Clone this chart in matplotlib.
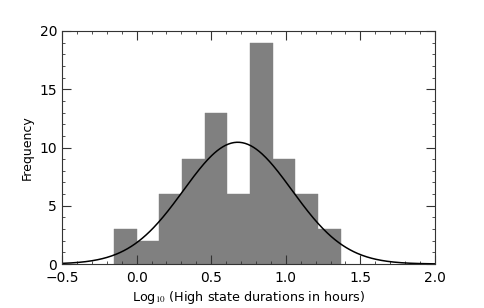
import matplotlib
matplotlib.use('Agg')
import matplotlib.pyplot as plt
import numpy as np
from matplotlib.ticker import MultipleLocator

# histogram
bin_edges = [-0.151, 0.001, 0.153, 0.305, 0.457, 0.609, 0.761, 0.913, 1.065, 1.217, 1.369]
counts = [3, 2, 6, 9, 13, 6, 19, 9, 6, 3]

# fitted gaussian (peak height, centre, width)
fit_amp = 10.45
fit_mu = 0.678
fit_sigma = 0.363

plt.rcParams['mathtext.fontset'] = 'stix'

fig = plt.figure(figsize=(4.85, 3.08), dpi=100)
ax = fig.add_axes([62/485, 1-264/308, (435-62)/485, (264-31)/308])

left = np.array(bin_edges[:-1])
widths = np.diff(bin_edges)
ax.bar(left, counts, width=widths, align='edge', color='#808080',
       edgecolor='#808080', linewidth=0.3)

xs = np.linspace(-0.5, 2.0, 400)
ax.plot(xs, fit_amp*np.exp(-0.5*((xs-fit_mu)/fit_sigma)**2), color='black', lw=1.1)

ax.set_xlim(-0.5, 2.0)
ax.set_ylim(0, 20)
ax.xaxis.set_major_locator(MultipleLocator(0.5))
ax.xaxis.set_minor_locator(MultipleLocator(0.1))
ax.yaxis.set_major_locator(MultipleLocator(5))
ax.yaxis.set_minor_locator(MultipleLocator(1))
ax.tick_params(which='both', direction='in', top=True, right=True, labelsize=10,
               color='#333333')
ax.tick_params(which='major', length=6.5)
ax.tick_params(which='minor', length=2.5)
ax.tick_params(axis='x', pad=5)
for s in ax.spines.values():
    s.set_color('#333333')

ax.set_xlabel(r'Log$_{10}$ (High state durations in hours)', fontsize=9.2, labelpad=3)
ax.set_ylabel('Frequency', fontsize=9)

fig.savefig('out.png', dpi=100)
